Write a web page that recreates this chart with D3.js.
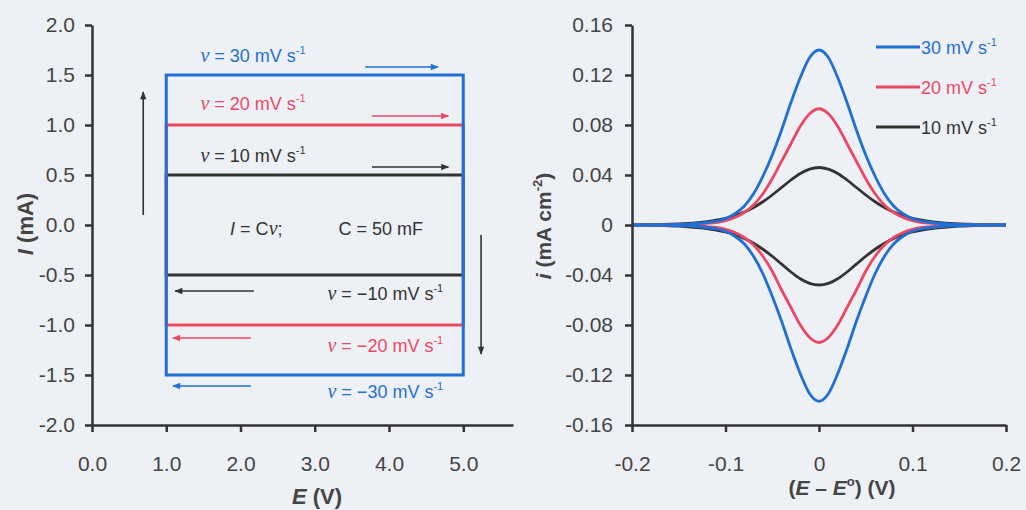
<!DOCTYPE html>
<html>
<head>
<meta charset="utf-8">
<script src="https://cdn.jsdelivr.net/npm/d3@7"></script>
<style>
body { margin: 0; background: #edf0f5; }
svg { display: block; font-family: "Liberation Sans", Arial, sans-serif; }
.axis path, .axis line { stroke: #333; stroke-width: 2.5; }
.axis text { font-size: 21px; fill: #444; font-family: "Liberation Sans", Arial, sans-serif; }
</style>
</head>
<body>
<div id="chart"></div>
<script>
// ---- data: left panel (ideal capacitor, I = Cv) ----
var rates = [30, 20, 10];                       // mV/s
var rateColors = ["#1f6fd6", "#ea4863", "#333333"];
var stepCurrent = [1.5, 1.0, 0.5];              // mA, +/- for each rate
var boxPotential = [1.0, 5.0];                  // V
var leftXTicks = [0, 1, 2, 3, 4, 5];
var leftYTicks = [-2, -1.5, -1, -0.5, 0, 0.5, 1, 1.5, 2];

// ---- data: right panel (surface-confined redox couple) ----
var potential = [-0.20, -0.18, -0.16, -0.15, -0.14, -0.13, -0.12, -0.11, -0.10, -0.09,
                 -0.08, -0.07, -0.06, -0.05, -0.04, -0.03, -0.02, -0.01, 0,
                  0.01, 0.02, 0.03, 0.04, 0.05, 0.06, 0.07, 0.08, 0.09, 0.10,
                  0.11, 0.12, 0.13, 0.14, 0.15, 0.16, 0.18, 0.20];
var anodic30 = [0, 0.0001, 0.0002, 0.0004, 0.0007, 0.0012, 0.002, 0.003, 0.005, 0.009,
                0.015, 0.025, 0.039, 0.056, 0.076, 0.098, 0.118, 0.134, 0.140,
                0.134, 0.118, 0.098, 0.076, 0.056, 0.039, 0.025, 0.015, 0.009, 0.005,
                0.003, 0.002, 0.0012, 0.0007, 0.0004, 0.0002, 0.0001, 0];
var cathodic30 = [0, -0.0001, -0.0002, -0.0004, -0.0007, -0.0012, -0.002, -0.003, -0.005, -0.009,
                  -0.015, -0.025, -0.039, -0.057, -0.077, -0.099, -0.119, -0.135, -0.141,
                  -0.135, -0.119, -0.099, -0.077, -0.057, -0.039, -0.025, -0.015, -0.009, -0.005,
                  -0.003, -0.002, -0.0012, -0.0007, -0.0004, -0.0002, -0.0001, 0];
var anodic20 = [0, 0.0001, 0.0002, 0.0003, 0.0005, 0.0008, 0.0013, 0.002, 0.0035, 0.006,
                0.010, 0.016, 0.025, 0.037, 0.051, 0.065, 0.079, 0.089, 0.093,
                0.089, 0.079, 0.065, 0.051, 0.037, 0.025, 0.016, 0.010, 0.006, 0.0035,
                0.002, 0.0013, 0.0008, 0.0005, 0.0003, 0.0002, 0.0001, 0];
var cathodic20 = [0, -0.0001, -0.0002, -0.0003, -0.0005, -0.0008, -0.0013, -0.002, -0.0035, -0.006,
                  -0.010, -0.016, -0.025, -0.037, -0.052, -0.066, -0.080, -0.090, -0.094,
                  -0.090, -0.080, -0.066, -0.052, -0.037, -0.025, -0.016, -0.010, -0.006, -0.0035,
                  -0.002, -0.0013, -0.0008, -0.0005, -0.0003, -0.0002, -0.0001, 0];
var anodic10 = [0.0001, 0.0003, 0.0006, 0.0009, 0.0013, 0.0019, 0.0027, 0.0038, 0.0054, 0.0075,
                0.0103, 0.014, 0.0186, 0.024, 0.030, 0.036, 0.0412, 0.0447, 0.046,
                0.0447, 0.0412, 0.036, 0.030, 0.024, 0.0186, 0.014, 0.0103, 0.0075, 0.0054,
                0.0038, 0.0027, 0.0019, 0.0013, 0.0009, 0.0006, 0.0003, 0.0001];
var cathodic10 = [-0.0001, -0.0003, -0.0006, -0.0009, -0.0014, -0.002, -0.0028, -0.004, -0.0056, -0.0078,
                  -0.0107, -0.0146, -0.0194, -0.025, -0.0313, -0.0376, -0.043, -0.0467, -0.048,
                  -0.0467, -0.043, -0.0376, -0.0313, -0.025, -0.0194, -0.0146, -0.0107, -0.0078, -0.0056,
                  -0.004, -0.0028, -0.002, -0.0014, -0.0009, -0.0006, -0.0003, -0.0001];
var rightXTicks = [-0.2, -0.1, 0, 0.1, 0.2];
var rightYTicks = [-0.16, -0.12, -0.08, -0.04, 0, 0.04, 0.08, 0.12, 0.16];

var W = 1026, H = 510;
var svg = d3.select("#chart").append("svg")
    .attr("width", W)
    .attr("height", H);

// arrow heads, one per colour
var defs = svg.append("defs");
rateColors.forEach(function(c, i) {
    defs.append("marker")
        .attr("id", "head" + i)
        .attr("viewBox", "0 0 10 10")
        .attr("refX", 9).attr("refY", 5)
        .attr("markerWidth", 9).attr("markerHeight", 8)
        .attr("markerUnits", "userSpaceOnUse")
        .attr("orient", "auto")
        .append("path")
        .attr("d", "M0 1 L10 5 L0 9 Z")
        .attr("fill", c);
});

// rich text helper: segments [{t, it, serif, sup, after}]
function richText(sel, parts, size) {
    parts.forEach(function(p) {
        var ts = sel.append("tspan").text(p.t);
        if (p.it) ts.style("font-style", "italic");
        if (p.serif) ts.style("font-family", "'Liberation Serif', 'Times New Roman', serif").style("font-size", (size + 2) + "px");
        if (p.sup) ts.style("font-size", Math.round(size * 0.62) + "px").attr("dy", -size * 0.42);
        if (p.after) ts.attr("dy", size * 0.42);
    });
    return sel;
}

// ================= LEFT PANEL =================
var xL = d3.scaleLinear().domain([0, 5.67]).range([92, 513]);
var yL = d3.scaleLinear().domain([-2, 2]).range([425, 25]);

var left = svg.append("g");

// capacitor boxes, blue drawn last so its sides sit on top
for (var k = rates.length - 1; k >= 0; k--) {
    left.append("rect")
        .attr("x", xL(boxPotential[0]))
        .attr("y", yL(stepCurrent[k]))
        .attr("width", xL(boxPotential[1]) - xL(boxPotential[0]))
        .attr("height", yL(-stepCurrent[k]) - yL(stepCurrent[k]))
        .attr("fill", "none")
        .attr("stroke", rateColors[k])
        .attr("stroke-width", 3);
}

// annotations (in data units)
var fwdLabels = [
    { i: 0, tx: 1.46, ty: 1.63, a0: 3.68, a1: 4.66, ay: 1.58 },
    { i: 1, tx: 1.46, ty: 1.15, a0: 3.77, a1: 4.80, ay: 1.09 },
    { i: 2, tx: 1.46, ty: 0.63, a0: 3.77, a1: 4.80, ay: 0.58 }
];
var revLabels = [
    { i: 0, tx: 4.73, ty: -1.73, a0: 2.14, a1: 1.09, ay: -1.61 },
    { i: 1, tx: 4.73, ty: -1.27, a0: 2.14, a1: 1.09, ay: -1.13 },
    { i: 2, tx: 4.73, ty: -0.75, a0: 2.18, a1: 1.12, ay: -0.66 }
];
var annSize = 18;
fwdLabels.forEach(function(d) {
    var t = left.append("text")
        .attr("x", xL(d.tx)).attr("y", yL(d.ty))
        .attr("fill", rateColors[d.i])
        .style("font-size", annSize + "px");
    richText(t, [{ t: "\u03bd", it: true, serif: true }, { t: " = " + rates[d.i] + " mV s" },
                 { t: "-1", sup: true }], annSize);
    left.append("line")
        .attr("x1", xL(d.a0)).attr("x2", xL(d.a1))
        .attr("y1", yL(d.ay)).attr("y2", yL(d.ay))
        .attr("stroke", rateColors[d.i]).attr("stroke-width", 1.6)
        .attr("marker-end", "url(#head" + d.i + ")");
});
revLabels.forEach(function(d) {
    var t = left.append("text")
        .attr("x", xL(d.tx)).attr("y", yL(d.ty))
        .attr("text-anchor", "end")
        .attr("fill", rateColors[d.i])
        .style("font-size", annSize + "px");
    richText(t, [{ t: "\u03bd", it: true, serif: true }, { t: " = \u2212" + rates[d.i] + " mV s" },
                 { t: "-1", sup: true }], annSize);
    left.append("line")
        .attr("x1", xL(d.a0)).attr("x2", xL(d.a1))
        .attr("y1", yL(d.ay)).attr("y2", yL(d.ay))
        .attr("stroke", rateColors[d.i]).attr("stroke-width", 1.6)
        .attr("marker-end", "url(#head" + d.i + ")");
});

// sweep direction arrows
left.append("line")
    .attr("x1", xL(0.69)).attr("x2", xL(0.69))
    .attr("y1", yL(0.1)).attr("y2", yL(1.33))
    .attr("stroke", "#333").attr("stroke-width", 1.6)
    .attr("marker-end", "url(#head2)");
left.append("line")
    .attr("x1", xL(5.24)).attr("x2", xL(5.24))
    .attr("y1", yL(-0.1)).attr("y2", yL(-1.29))
    .attr("stroke", "#333").attr("stroke-width", 1.6)
    .attr("marker-end", "url(#head2)");

// I = Cv; C = 50 mF
var eq = left.append("text")
    .attr("x", xL(1.86)).attr("y", yL(-0.10))
    .attr("fill", "#333").style("font-size", annSize + "px");
richText(eq, [{ t: "I", it: true }, { t: " = C" }, { t: "\u03bd", it: true, serif: true }, { t: ";" }], annSize);
left.append("text")
    .attr("x", xL(3.32)).attr("y", yL(-0.10))
    .attr("fill", "#333").style("font-size", annSize + "px")
    .text("C = 50 mF");

// axes
left.append("g").attr("class", "axis")
    .attr("transform", "translate(0," + yL(-2) + ")")
    .call(d3.axisBottom(xL).tickValues(leftXTicks).tickSize(7).tickSizeOuter(0).tickPadding(24)
        .tickFormat(function(d) { return d.toFixed(1); }));
left.append("g").attr("class", "axis")
    .attr("transform", "translate(" + xL(0) + ",0)")
    .call(d3.axisLeft(yL).tickValues(leftYTicks).tickSize(7).tickSizeOuter(0).tickPadding(10)
        .tickFormat(function(d) { return d.toFixed(1); }));

var lxt = left.append("text")
    .attr("x", 317).attr("y", 504)
    .attr("text-anchor", "middle")
    .attr("fill", "#444")
    .style("font-size", "22px").style("font-weight", "bold");
richText(lxt, [{ t: "E", it: true }, { t: "  (V)" }], 22);

var lyt = left.append("text")
    .attr("transform", "translate(33,224) rotate(-90)")
    .attr("text-anchor", "middle")
    .attr("fill", "#444")
    .style("font-size", "22px").style("font-weight", "bold");
richText(lyt, [{ t: "I", it: true }, { t: "  (mA)" }], 22);

// ================= RIGHT PANEL =================
var xR = d3.scaleLinear().domain([-0.2, 0.2]).range([632, 1006]);
var yR = d3.scaleLinear().domain([-0.16, 0.16]).range([425, 25]);
var right = svg.append("g");

var line = d3.line()
    .x(function(d) { return xR(d[0]); })
    .y(function(d) { return yR(d[1]); })
    .curve(d3.curveMonotoneX);

var curves = [
    { i: 2, v: anodic10 }, { i: 2, v: cathodic10 },
    { i: 1, v: anodic20 }, { i: 1, v: cathodic20 },
    { i: 0, v: anodic30 }, { i: 0, v: cathodic30 }
];
curves.forEach(function(c) {
    right.append("path")
        .datum(d3.zip(potential, c.v))
        .attr("d", line)
        .attr("fill", "none")
        .attr("stroke", rateColors[c.i])
        .attr("stroke-width", 2.8);
});

right.append("g").attr("class", "axis")
    .attr("transform", "translate(0," + yR(-0.16) + ")")
    .call(d3.axisBottom(xR).tickValues(rightXTicks).tickSize(7).tickSizeOuter(0).tickPadding(24)
        .tickFormat(function(d) { return d === 0 ? "0" : d.toFixed(1); }));
right.append("g").attr("class", "axis")
    .attr("transform", "translate(" + xR(-0.2) + ",0)")
    .call(d3.axisLeft(yR).tickValues(rightYTicks).tickSize(7).tickSizeOuter(0).tickPadding(12)
        .tickFormat(function(d) { return Math.abs(d) < 1e-9 ? "0" : d.toFixed(2); }));

var rxt = right.append("text")
    .attr("x", 842).attr("y", 495)
    .attr("text-anchor", "middle")
    .attr("fill", "#444")
    .style("font-size", "21px").style("font-weight", "bold");
richText(rxt, [{ t: "(" }, { t: "E", it: true }, { t: " \u2013 " }, { t: "E", it: true },
               { t: "o", sup: true }, { t: ") (V)", after: true }], 21);

var ryt = right.append("text")
    .attr("transform", "translate(551,226) rotate(-90)")
    .attr("text-anchor", "middle")
    .attr("fill", "#444")
    .style("font-size", "21px").style("font-weight", "bold");
richText(ryt, [{ t: "i", it: true }, { t: " (mA cm" }, { t: "-2", sup: true }, { t: ")", after: true }], 21);

// legend
var legend = right.append("g");
rates.forEach(function(r, i) {
    var ly = 47 + i * 40;
    legend.append("line")
        .attr("x1", 876).attr("x2", 920)
        .attr("y1", ly).attr("y2", ly)
        .attr("stroke", rateColors[i]).attr("stroke-width", 3);
    var t = legend.append("text")
        .attr("x", 921).attr("y", ly + 7)
        .attr("fill", rateColors[i])
        .style("font-size", "18px");
    richText(t, [{ t: r + " mV s" }, { t: "-1", sup: true }], 18);
});
</script>
</body>
</html>
